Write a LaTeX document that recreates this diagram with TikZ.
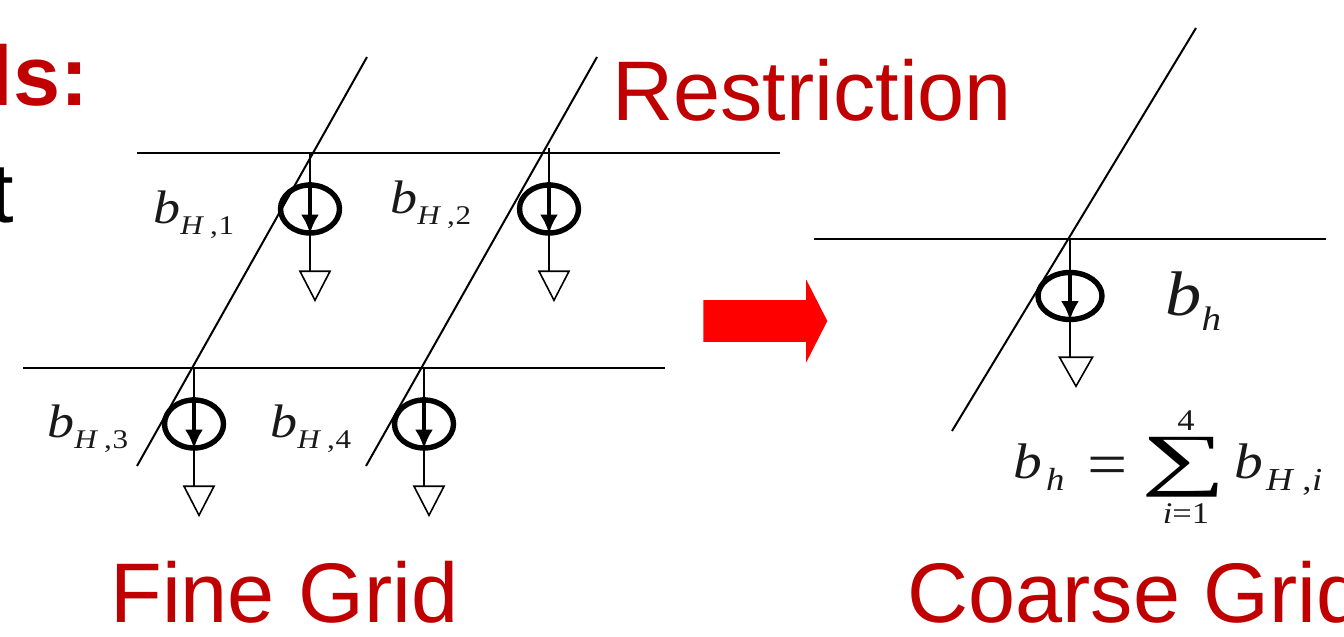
\documentclass[tikz,border=0pt]{standalone}
\usepackage{fontspec}
\setmainfont{Liberation Sans}
\newfontfamily\symbfont[FakeStretch=1.15]{Liberation Serif}
\usetikzlibrary{arrows.meta, positioning, shapes.geometric, shapes.arrows}
\definecolor{gridred}{HTML}{C00000}
\newcommand{\symsize}[1]{\symbfont\fontsize{#1}{#1}\selectfont}
\newcommand{\bsub}[1]{\textit{b}\raisebox{-5.5pt}{\symsize{13.5}\textit{H}\kern3pt,\kern0.3pt#1}}

\begin{document}
\begin{tikzpicture}[
    x=0.5pt, y=-0.5pt,
    title/.style={font=\fontsize{42.3}{50}\selectfont, text=gridred, inner sep=0, anchor=base west},
    symb/.style={font=\symsize{23.5}, text=black!90, inner sep=0, anchor=base west},
    wire/.style={line width=1pt},
    drive/.style={ellipse, draw, line width=2.7pt, inner sep=0, minimum width=29.5pt, minimum height=24pt},
    drivebig/.style={drive, minimum width=32pt, minimum height=23.5pt},
    pointer/.style={-{Latex[length=9.5pt, width=9pt]}, line width=2pt, shorten >=1pt},
    ground/.style={isosceles triangle, isosceles triangle apex angle=55, isosceles triangle stretches, shape border rotate=270, draw, line width=0.8pt, inner sep=0, minimum width=15pt, minimum height=14.5pt, anchor=apex},
    bigarrow/.style={single arrow, fill=red, inner sep=0, minimum width=41pt, minimum height=62pt, single arrow head extend=10.25pt, single arrow tip angle=126, single arrow head indent=0pt}
]
\useasboundingbox (0,0) rectangle (1344,637);
\clip (0,0) rectangle (1344,637);

% Leftover slide text
\node[title, anchor=base east, font=\fontsize{42.3}{50}\selectfont\bfseries] (Heading) at (89,105) {ls:};
\node[title, anchor=base east, text=black] (Bullet) at (14,222) {t};

% Rails and vias
\foreach \n/\xa/\ya/\xb/\yb in {A/137/153/780/153, B/23/368/665/368, C/814/239/1326/239,
    D/367/57/137/466, E/597/57/366/466, F/1196/28/952/431} {
    \coordinate (Wire\n s) at (\xa,\ya);
    \coordinate (Wire\n e) at (\xb,\yb);
    \draw[wire] (Wire\n s) -- (Wire\n e);
}

% Fine grid cells
\foreach \n/\x/\y in {1/310/153, 2/549/148, 3/194/368, 4/424/368} {
    \pgfmathsetmacro{\ybase}{\y<300 ? 153 : 368}
    \coordinate (Rail\n) at (\x,\y);
    \node[drive] (Drive\n) at (\x,\ybase+56) {};
    \coordinate (Stem\n) at (\x,\ybase+119);
    \node[ground] (Gnd\n) at (\x+5,\ybase+149) {};
    \draw[wire] (Rail\n) -- (Stem\n);
    \draw[pointer] (Drive\n.north) -- (Drive\n.south);
}

% Coarse grid cell
\coordinate (Rail5) at (1070,239);
\node[drivebig] (Drive5) at (1070,296) {};
\coordinate (Stem5) at (1070,358);
\node[ground, minimum width=16.5pt] (Gnd5) at (1076,388) {};
\draw[wire] (Rail5) -- (Stem5);
\draw[pointer] (Drive5.north) -- (Drive5.south);

% Labels
\node[symb] (Label1) at (153,223) {\bsub{1}};
\node[symb] (Label2) at (390,213) {\bsub{2}};
\node[symb] (Label3) at (47,437) {\bsub{3}};
\node[symb] (Label4) at (270,437) {\bsub{4}};
\node[symb, font=\symsize{31.5}] (LabelB) at (1165,315) {\textit{b}\raisebox{-7.5pt}{\symsize{17}\textit{h}}};

% Sum
\node[symb, font=\symsize{25}] (SumLeft) at (1013,478) {\textit{b}\kern2pt\raisebox{-6pt}{\symsize{16}\textit{h}}};
\node[symb, font=\symsize{31}] (SumEq) at (1087,485) {=};
\node[font=\symsize{34.5}, inner sep=0] (SumSign) at (1184,467) {\scalebox{1.5}[1]{∑}};
\node[symb, font=\symsize{15}, anchor=base] (SumTop) at (1186,430) {4};
\node[symb, font=\symsize{15}, anchor=base] (SumLow) at (1186,523) {\textit{i}=1};
\node[symb, font=\symsize{25}] (SumRight) at (1234,478) {\textit{b}\kern1.5pt\raisebox{-6pt}{\symsize{16}\textit{H}\kern4pt,\kern0.3pt\textit{i}}};

% Titles
\node[title] (Restrict) at (612,120) {Restriction};
\node[title] (Fine) at (110,622) {Fine Grid};
\node[title] (Coarse) at (907,622) {Coarse Grid};

% Big arrow
\node[bigarrow] (Big) at (760,321) {\rule{0pt}{20.5pt}};

\end{tikzpicture}
\end{document}
